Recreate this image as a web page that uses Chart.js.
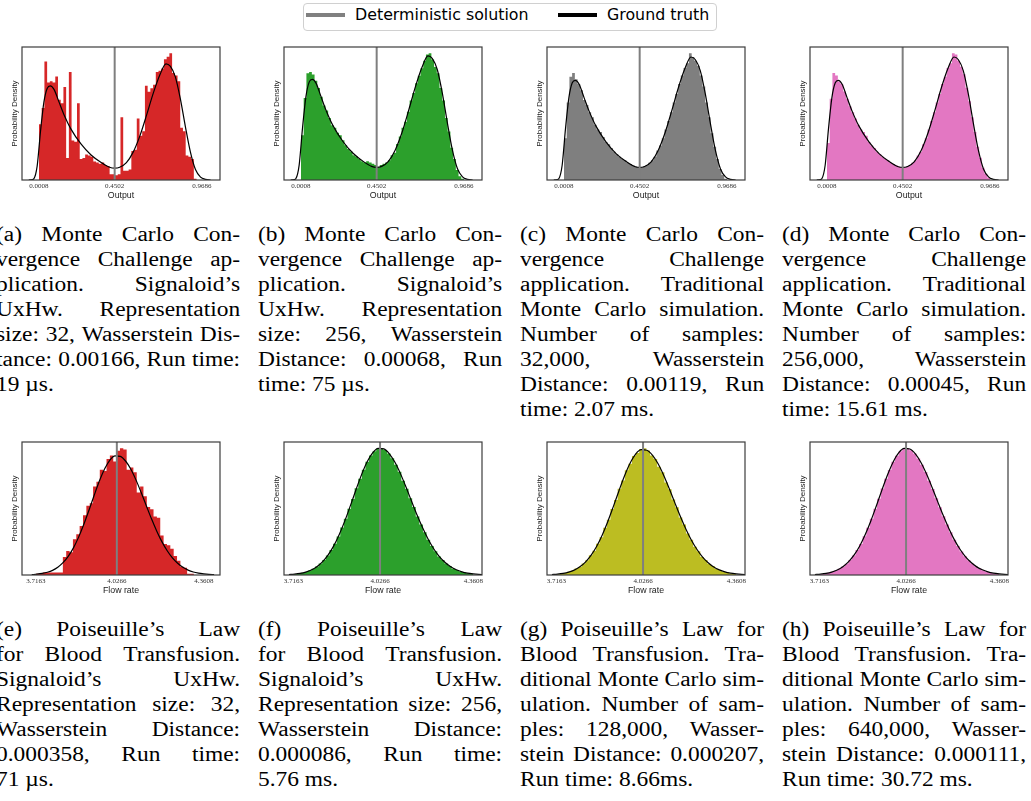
<!DOCTYPE html>
<html>
<head>
<meta charset="utf-8">
<script src="https://cdn.jsdelivr.net/npm/chart.js@4.4.1/dist/chart.umd.min.js"></script>
<style>
html, body { margin: 0; padding: 0; background: #fff; }
body { width: 1031px; height: 801px; position: relative; overflow: hidden; }
canvas { position: absolute; }
.cap { position: absolute; width: 225px; transform: scaleX(1.085); transform-origin: 0 0;
       font-family: "Liberation Serif", "Times New Roman", serif; font-size: 21.6px; line-height: 25px; color: #000; }
.cap .ln { display: flex; justify-content: space-between; white-space: nowrap; height: 25px; }
.cap .last { white-space: nowrap; height: 25px; }
#legend { position: absolute; left: 303px; top: 3px; width: 412px; height: 26px; border: 1px solid #d0d0d0; border-radius: 4px; background: #fff; }
.sw { position: absolute; height: 4px; top: 13px; }
.lt { position: absolute; top: 6px; font-family: "DejaVu Sans", sans-serif; font-size: 15px; line-height: 18px; color: #000;
      transform: scaleX(1.055); transform-origin: 0 0; white-space: nowrap; }
</style>
</head>
<body>
<div id="legend"></div>
<div class="sw" style="left:306px; width:39px; background:#808080;"></div>
<div class="lt" style="left:355px;">Deterministic solution</div>
<div class="sw" style="left:558px; width:39px; background:#000;"></div>
<div class="lt" style="left:607px;">Ground truth</div>

<script>
// x ticks: min / deterministic / max of each problem
const topTickValues = [0.0008, 0.4502, 0.9686];
const topTickLabels = ['0.0008', '0.4502', '0.9686'];
const bottomTickValues = [3.7163, 4.0266, 4.3608];
const bottomTickLabels = ['3.7163', '4.0266', '4.3608'];

const topDeterministic = 0.4502;
const bottomDeterministic = 4.0266;

// histogram ranges (bins are spread evenly over them)
const topBinRange = [0.0008, 0.9686];
const bottomBinRange = [3.7163, 4.3608];

// ground truth density, Monte Carlo Convergence Challenge
const topCurveX = [-0.06, -0.04, -0.03, -0.01, 0.01, 0.03, 0.05, 0.068, 0.09, 0.12, 0.15, 0.19, 0.25, 0.31, 0.37, 0.42, 0.45, 0.48,
                   0.52, 0.56, 0.60, 0.64, 0.68, 0.72, 0.755, 0.78, 0.81, 0.84, 0.87, 0.90, 0.93, 0.96, 0.99, 1.02];
const topCurveY = [0, 0.003, 0.01, 0.12, 0.42, 0.67, 0.79, 0.81, 0.78, 0.67, 0.56, 0.44, 0.31, 0.215, 0.15, 0.11, 0.102, 0.11,
                   0.15, 0.24, 0.38, 0.56, 0.75, 0.91, 1.0, 0.98, 0.89, 0.70, 0.46, 0.24, 0.09, 0.025, 0.005, 0];

// ground truth density, Poiseuille's law
const bottomCurveX = [3.70, 3.72, 3.74, 3.76, 3.78, 3.80, 3.82, 3.84, 3.86, 3.88, 3.90, 3.92, 3.94, 3.96, 3.98, 4.00, 4.02, 4.04,
                      4.06, 4.08, 4.10, 4.12, 4.14, 4.16, 4.18, 4.20, 4.22, 4.24, 4.26, 4.28, 4.30, 4.32, 4.34, 4.36, 4.38, 4.40];
const bottomCurveY = [0.003, 0.007, 0.013, 0.023, 0.039, 0.065, 0.103, 0.156, 0.227, 0.317, 0.424, 0.544, 0.669, 0.788, 0.889, 0.962, 0.997, 0.993,
                      0.954, 0.887, 0.796, 0.690, 0.578, 0.468, 0.367, 0.277, 0.203, 0.143, 0.098, 0.064, 0.041, 0.025, 0.015, 0.009, 0.005, 0.003];

// histograms (60 bins top row, 50 bins bottom row)
const histA = [0.48, 0.62, 1.02, 0.84, 0.85, 0.84, 0.89, 0.69, 0.66, 0.80, 0.19, 0.93, 0.34, 0.33, 0.66, 0.18, 0.19, 0.22, 0.21, 0.20,
               0.16, 0.15, 0.14, 0.15, 0.13, 0.12, 0.05, 0.05, 0.04, 0.05, 0.54, 0.08, 0.08, 0.09, 0.25, 0.26, 0.53, 0.38, 0.42, 0.81,
               0.76, 0.79, 0.82, 0.93, 0.94, 0.96, 1.04, 1.06, 1.09, 0.92, 0.90, 0.85, 0.45, 0.42, 0.21, 0.20, 0.18, 0.01, 0.0, 0.0];
const histB = [0.36, 0.66, 0.86, 0.87, 0.85, 0.80, 0.74, 0.67, 0.60, 0.56, 0.50, 0.44, 0.42, 0.38, 0.36, 0.32, 0.28, 0.25, 0.23, 0.20,
               0.19, 0.17, 0.15, 0.14, 0.15, 0.14, 0.13, 0.12, 0.10, 0.12, 0.13, 0.14, 0.16, 0.20, 0.22, 0.29, 0.35, 0.42, 0.47, 0.55,
               0.64, 0.70, 0.78, 0.84, 0.90, 0.96, 1.01, 1.02, 0.97, 0.91, 0.86, 0.74, 0.64, 0.50, 0.39, 0.26, 0.17, 0.08, 0.03, 0.01];
const histC = [0.34, 0.63, 0.84, 0.87, 0.82, 0.78, 0.73, 0.65, 0.61, 0.55, 0.51, 0.45, 0.41, 0.39, 0.35, 0.31, 0.29, 0.26, 0.23, 0.21,
               0.19, 0.17, 0.16, 0.14, 0.13, 0.12, 0.11, 0.10, 0.10, 0.11, 0.12, 0.14, 0.16, 0.19, 0.24, 0.28, 0.34, 0.41, 0.48, 0.55,
               0.63, 0.70, 0.78, 0.85, 0.91, 0.95, 1.03, 1.00, 0.97, 0.93, 0.85, 0.76, 0.63, 0.51, 0.38, 0.27, 0.17, 0.09, 0.04, 0.01];
const histD = [0.30, 0.66, 0.87, 0.85, 0.80, 0.78, 0.72, 0.66, 0.60, 0.55, 0.50, 0.45, 0.41, 0.39, 0.36, 0.31, 0.28, 0.26, 0.23, 0.21,
               0.19, 0.17, 0.16, 0.14, 0.13, 0.12, 0.11, 0.10, 0.10, 0.11, 0.12, 0.14, 0.16, 0.20, 0.23, 0.29, 0.34, 0.41, 0.48, 0.55,
               0.63, 0.70, 0.78, 0.84, 0.91, 0.95, 1.03, 1.02, 0.97, 0.92, 0.86, 0.75, 0.64, 0.51, 0.39, 0.27, 0.18, 0.10, 0.05, 0.02];
const histE = [0.01, 0.01, 0.02, 0.02, 0.02, 0.02, 0.02, 0.02, 0.15, 0.20, 0.19, 0.30, 0.34, 0.41, 0.50, 0.58, 0.60, 0.74, 0.78, 0.88,
               0.87, 0.97, 1.00, 0.95, 1.04, 1.06, 1.05, 0.88, 0.90, 0.86, 0.69, 0.74, 0.66, 0.57, 0.55, 0.49, 0.48, 0.33, 0.26, 0.25,
               0.22, 0.16, 0.12, 0.07, 0.06, 0.01, 0.01, 0.0, 0.0, 0.0];
const histF = [0.007, 0.011, 0.017, 0.024, 0.035, 0.050, 0.066, 0.090, 0.118, 0.154, 0.196, 0.245, 0.304, 0.373, 0.443, 0.522, 0.599, 0.682, 0.757, 0.829,
               0.891, 0.940, 0.974, 0.995, 0.997, 0.984, 0.957, 0.918, 0.868, 0.812, 0.741, 0.678, 0.604, 0.535, 0.461, 0.398, 0.336, 0.278, 0.228, 0.186,
               0.146, 0.118, 0.090, 0.070, 0.050, 0.039, 0.027, 0.020, 0.013, 0.009];
const histG = [0.006, 0.012, 0.016, 0.026, 0.034, 0.052, 0.064, 0.092, 0.117, 0.157, 0.193, 0.248, 0.301, 0.377, 0.440, 0.526, 0.596, 0.686, 0.752, 0.834,
               0.886, 0.946, 0.971, 1.003, 1.008, 0.990, 0.951, 0.923, 0.862, 0.818, 0.736, 0.682, 0.600, 0.539, 0.457, 0.402, 0.331, 0.281, 0.225, 0.189,
               0.143, 0.120, 0.088, 0.072, 0.049, 0.040, 0.026, 0.021, 0.012, 0.009];
const histH = [0.007, 0.011, 0.017, 0.025, 0.035, 0.049, 0.066, 0.089, 0.119, 0.154, 0.197, 0.244, 0.305, 0.372, 0.444, 0.521, 0.600, 0.681, 0.758, 0.828,
               0.892, 0.939, 0.975, 0.994, 0.998, 0.983, 0.958, 0.917, 0.869, 0.811, 0.742, 0.677, 0.605, 0.534, 0.462, 0.397, 0.337, 0.277, 0.229, 0.185,
               0.147, 0.117, 0.091, 0.069, 0.051, 0.038, 0.028, 0.020, 0.013, 0.009];

const rows = {
  top: { ticks: topTickValues, labels: topTickLabels, det: topDeterministic, range: topBinRange,
         cx: topCurveX, cy: topCurveY, xTitle: 'Output', xMin: -0.1, xMax: 1.0756 },
  bottom: { ticks: bottomTickValues, labels: bottomTickLabels, det: bottomDeterministic, range: bottomBinRange,
            cx: bottomCurveX, cy: bottomCurveY, xTitle: 'Flow rate', xMin: 3.6823, xMax: 4.392 }
};

const panels = [
  { hist: histA, color: '#d62728', row: 'top', left: 22, top: 47 },
  { hist: histB, color: '#2ca02c', row: 'top', left: 284, top: 47 },
  { hist: histC, color: '#7f7f7f', row: 'top', left: 547, top: 47 },
  { hist: histD, color: '#e377c2', row: 'top', left: 810, top: 47 },
  { hist: histE, color: '#d62728', row: 'bottom', left: 22, top: 442, xMin: 3.6626, xMax: 4.4226 },
  { hist: histF, color: '#2ca02c', row: 'bottom', left: 284, top: 442 },
  { hist: histG, color: '#bcbd22', row: 'bottom', left: 547, top: 442 },
  { hist: histH, color: '#e377c2', row: 'bottom', left: 810, top: 442 }
];

const captions = [
  { left: -4, top: 222, lines: ['(a) Monte Carlo Con-', 'vergence Challenge ap-', 'plication. Signaloid’s', 'UxHw. Representation',
                                'size: 32, Wasserstein Dis-', 'tance: 0.00166, Run time:', '19 µs.'] },
  { left: 258, top: 222, lines: ['(b) Monte Carlo Con-', 'vergence Challenge ap-', 'plication. Signaloid’s', 'UxHw. Representation',
                                 'size: 256, Wasserstein', 'Distance: 0.00068, Run', 'time: 75 µs.'] },
  { left: 520, top: 222, lines: ['(c) Monte Carlo Con-', 'vergence Challenge', 'application. Traditional', 'Monte Carlo simulation.',
                                 'Number of samples:', '32,000, Wasserstein', 'Distance: 0.00119, Run', 'time: 2.07 ms.'] },
  { left: 782, top: 222, lines: ['(d) Monte Carlo Con-', 'vergence Challenge', 'application. Traditional', 'Monte Carlo simulation.',
                                 'Number of samples:', '256,000, Wasserstein', 'Distance: 0.00045, Run', 'time: 15.61 ms.'] },
  { left: -4, top: 617, lines: ['(e) Poiseuille’s Law', 'for Blood Transfusion.', 'Signaloid’s UxHw.', 'Representation size: 32,',
                                'Wasserstein Distance:', '0.000358, Run time:', '71 µs.'] },
  { left: 258, top: 617, lines: ['(f) Poiseuille’s Law', 'for Blood Transfusion.', 'Signaloid’s UxHw.', 'Representation size: 256,',
                                 'Wasserstein Distance:', '0.000086, Run time:', '5.76 ms.'] },
  { left: 520, top: 617, lines: ['(g) Poiseuille’s Law for', 'Blood Transfusion. Tra-', 'ditional Monte Carlo sim-', 'ulation. Number of sam-',
                                 'ples: 128,000, Wasser-', 'stein Distance: 0.000207,', 'Run time: 8.66ms.'] },
  { left: 782, top: 617, lines: ['(h) Poiseuille’s Law for', 'Blood Transfusion. Tra-', 'ditional Monte Carlo sim-', 'ulation. Number of sam-',
                                 'ples: 640,000, Wasser-', 'stein Distance: 0.000111,', 'Run time: 30.72 ms.'] }
];

// captions: every line but the last is justified
captions.forEach(c => {
  const box = document.createElement('div');
  box.className = 'cap';
  box.style.left = c.left + 'px';
  box.style.top = c.top + 'px';
  c.lines.forEach((line, i) => {
    const ln = document.createElement('div');
    if (i < c.lines.length - 1) {
      ln.className = 'ln';
      line.split(' ').forEach(w => {
        const s = document.createElement('span');
        s.textContent = w;
        ln.appendChild(s);
      });
    } else {
      ln.className = 'last';
      ln.textContent = line;
    }
    box.appendChild(ln);
  });
  document.body.appendChild(box);
});

function histPoints(values, range) {
  const w = (range[1] - range[0]) / values.length;
  const pts = values.map((v, i) => ({ x: range[0] + (i + 0.5) * w, y: v }));
  pts.unshift({ x: range[0], y: values[0] });
  pts.push({ x: range[1], y: values[values.length - 1] });
  return pts;
}

const frame = {
  id: 'frame',
  afterDatasetsDraw(chart) {
    const { ctx, chartArea: a } = chart;
    ctx.save();
    ctx.strokeStyle = '#3c3c3c';
    ctx.lineWidth = 1.2;
    ctx.strokeRect(a.left, a.top, a.right - a.left, a.bottom - a.top);
    ctx.restore();
  }
};

const W = 214, H = 158;

panels.forEach(p => {
  const r = rows[p.row];
  const cv = document.createElement('canvas');
  cv.width = W; cv.height = H;
  cv.style.width = W + 'px'; cv.style.height = H + 'px';
  cv.style.left = (p.left - 12) + 'px';
  cv.style.top = (p.top - 4) + 'px';
  document.body.appendChild(cv);

  const yMax = 1.05 * Math.max(Math.max(...p.hist), Math.max(...r.cy));

  new Chart(cv, {
    type: 'line',
    data: {
      datasets: [
        { label: 'Deterministic solution', data: [{ x: r.det, y: 0 }, { x: r.det, y: yMax }],
          borderColor: '#7f7f7f', borderWidth: 2, pointRadius: 0, order: 0 },
        { label: 'Ground truth', data: r.cx.map((x, i) => ({ x: x, y: r.cy[i] })),
          borderColor: '#000', borderWidth: 1.2, pointRadius: 0, cubicInterpolationMode: 'monotone', fill: false, order: 1 },
        { label: 'Histogram', data: histPoints(p.hist, r.range), stepped: 'middle', fill: 'origin',
          backgroundColor: p.color, borderColor: 'rgba(0,0,0,0)', borderWidth: 0, pointRadius: 0, order: 2 }
      ]
    },
    options: {
      responsive: false,
      animation: false,
      devicePixelRatio: 1,
      layout: { padding: { top: 4, right: 4, left: 0, bottom: 0 } },
      plugins: { legend: { display: false }, tooltip: { enabled: false } },
      scales: {
        x: {
          type: 'linear',
          min: p.xMin !== undefined ? p.xMin : r.xMin,
          max: p.xMax !== undefined ? p.xMax : r.xMax,
          grid: { display: false, drawTicks: false },
          border: { display: false },
          afterBuildTicks: ax => { ax.ticks = r.ticks.map(v => ({ value: v })); },
          afterFit: ax => { ax.height = 21; },
          ticks: { autoSkip: false, maxRotation: 0, padding: 2, color: '#333',
                   font: { family: 'Liberation Serif', size: 7 },
                   callback: (v, i) => r.labels[i] },
          title: { display: true, text: r.xTitle, padding: 0, color: '#222',
                   font: { family: 'Liberation Sans', size: 8.8 } }
        },
        y: {
          min: 0,
          max: yMax,
          grid: { display: false, drawTicks: false },
          border: { display: false },
          ticks: { display: false },
          afterFit: ax => { ax.width = 12; },
          title: { display: true, text: 'Probability Density', padding: 0, color: '#222',
                   font: { family: 'Liberation Sans', size: 8 } }
        }
      }
    },
    plugins: [frame]
  });
});
</script>
</body>
</html>
